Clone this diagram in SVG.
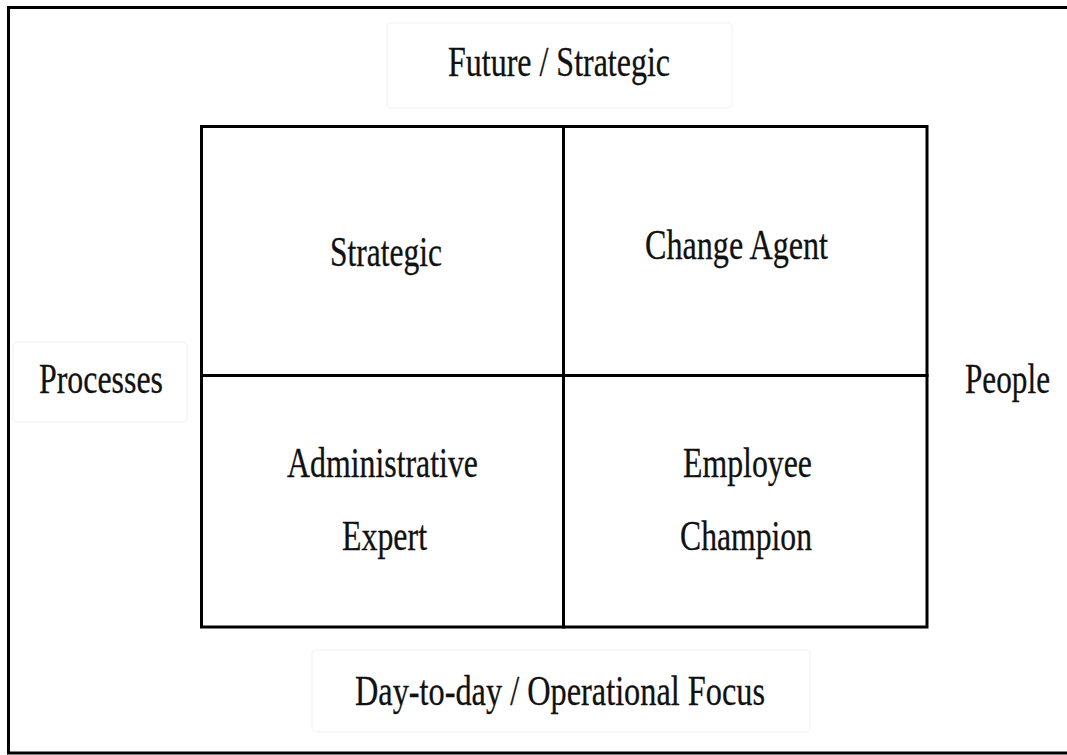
<svg xmlns="http://www.w3.org/2000/svg" width="1067" height="755" viewBox="0 0 1067 755">
  <style>
    .lbl { font-family: "Liberation Serif", "Times New Roman", serif; font-size: 42px; fill: #111; stroke: #111; stroke-width: 0.3; text-anchor: middle; }
    .faint { fill: #fff; stroke: #f5f5f5; stroke-width: 1.5; }
    .cell { fill: #fff; stroke: #000; stroke-width: 3; }
  </style>
  <rect x="0" y="0" width="1067" height="755" fill="#fff"/>
  <g id="frame">
    <path d="M1067 7.5 H8.5 V753 H1067" fill="none" stroke="#000" stroke-width="3"/>
  </g>
  <g id="top-label">
    <rect class="faint" x="387" y="23" width="345" height="85" rx="4"/>
    <text class="lbl" x="559" y="76" textLength="222" lengthAdjust="spacingAndGlyphs">Future / Strategic</text>
  </g>
  <g id="left-label">
    <rect class="faint" x="13" y="342" width="174" height="80" rx="4"/>
    <text class="lbl" x="101" y="393" textLength="124" lengthAdjust="spacingAndGlyphs">Processes</text>
  </g>
  <g id="right-label">
    <text class="lbl" x="1007.5" y="393" textLength="85" lengthAdjust="spacingAndGlyphs">People</text>
  </g>
  <g id="bottom-label">
    <rect class="faint" x="312" y="650" width="498" height="82" rx="4"/>
    <text class="lbl" x="560" y="705" textLength="410" lengthAdjust="spacingAndGlyphs">Day-to-day / Operational Focus</text>
  </g>
  <g id="q-strategic">
    <rect class="cell" x="201.5" y="126.5" width="362" height="249"/>
    <text class="lbl" x="386" y="266" textLength="112" lengthAdjust="spacingAndGlyphs">Strategic</text>
  </g>
  <g id="q-change-agent">
    <rect class="cell" x="563.5" y="126.5" width="363.5" height="249"/>
    <text class="lbl" x="736.5" y="259" textLength="183" lengthAdjust="spacingAndGlyphs">Change Agent</text>
  </g>
  <g id="q-admin-expert">
    <rect class="cell" x="201.5" y="375.5" width="362" height="251.5"/>
    <text class="lbl" x="382.5" y="477" textLength="191" lengthAdjust="spacingAndGlyphs">Administrative</text>
    <text class="lbl" x="384.5" y="550" textLength="85" lengthAdjust="spacingAndGlyphs">Expert</text>
  </g>
  <g id="q-employee-champion">
    <rect class="cell" x="563.5" y="375.5" width="363.5" height="251.5"/>
    <text class="lbl" x="747.5" y="477" textLength="129" lengthAdjust="spacingAndGlyphs">Employee</text>
    <text class="lbl" x="746" y="550" textLength="132" lengthAdjust="spacingAndGlyphs">Champion</text>
  </g>
  <g id="connectors"></g>
</svg>
